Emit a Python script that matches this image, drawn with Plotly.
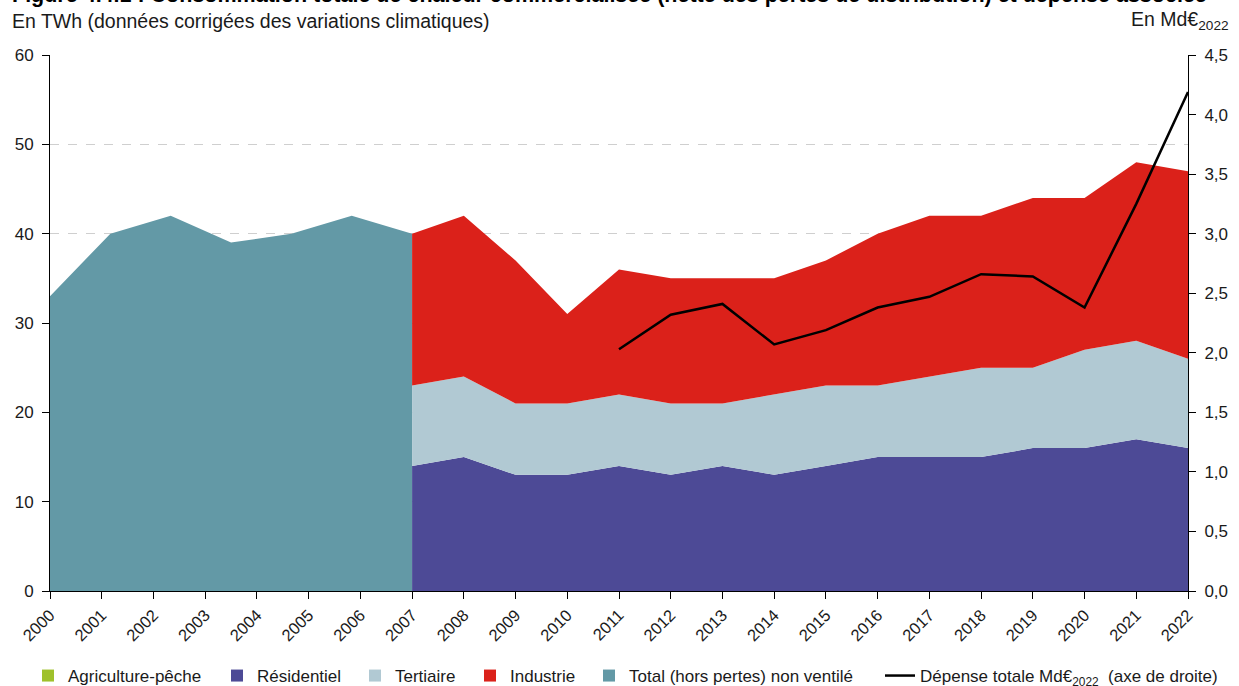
import numpy as np
import plotly.graph_objects as go

# ---- Data ----
years = list(range(2007, 2023))
total_nv_years = list(np.linspace(2000, 2007, 7))
total_nv = [33, 40, 42, 39, 40, 42, 40]
residentiel = [14, 15, 13, 13, 14, 13, 14, 13, 14, 15, 15, 15, 16, 16, 17, 16]
tertiaire = [9, 9, 8, 8, 8, 8, 7, 9, 9, 8, 9, 10, 9, 11, 11, 10]
industrie = [17, 18, 16, 10, 14, 14, 14, 13, 14, 17, 18, 17, 19, 17, 20, 21]
dep_years = list(range(2011, 2023))
depense = [2.03, 2.32, 2.41, 2.07, 2.19, 2.38, 2.47, 2.66, 2.64, 2.38, 3.25, 4.19]
tick_years = list(range(2000, 2023))

C_AGRI = "#9fc12b"
C_RES = "#4d4a96"
C_TER = "#b1c9d3"
C_IND = "#db211a"
C_TOT = "#6399a6"

FONT = "Liberation Sans, Arial, Helvetica, sans-serif"
W, H = 1239, 686

fig = go.Figure()

# Total non ventilé
fig.add_trace(go.Scatter(x=total_nv_years, y=total_nv, mode="lines", fill="tozeroy",
                         line=dict(width=0, color=C_TOT), fillcolor=C_TOT,
                         showlegend=False, hoverinfo="skip"))
# Stacked
for name, vals, col in [("Agriculture-pêche", [0]*len(years), C_AGRI),
                        ("Résidentiel", residentiel, C_RES),
                        ("Tertiaire", tertiaire, C_TER),
                        ("Industrie", industrie, C_IND)]:
    fig.add_trace(go.Scatter(x=years, y=vals, mode="lines", stackgroup="s",
                             line=dict(width=0, color=col), fillcolor=col,
                             showlegend=False, name=name))

# Legend entries, each in its own legend box
legend_items = [("Agriculture-pêche", C_AGRI, 42),
                ("Résidentiel", C_RES, 231),
                ("Tertiaire", C_TER, 369),
                ("Industrie", C_IND, 484),
                ("Total (hors pertes) non ventilé", C_TOT, 603)]
legend_layouts = {}
for i, (name, col, px) in enumerate(legend_items):
    lg = "legend" if i == 0 else f"legend{i+1}"
    fig.add_trace(go.Bar(x=[None], y=[None], name=name,
                         marker=dict(color=col, line=dict(width=0)),
                         showlegend=True, legend=lg))
    legend_layouts[lg] = dict(orientation="h", x=(px - 14) / W, xref="container",
                              y=(H - 676) / H, yref="container", yanchor="middle",
                              xanchor="left", font=dict(size=17), bgcolor="rgba(0,0,0,0)",
                              borderwidth=0, itemwidth=30)

# Dépense line
fig.add_trace(go.Scatter(x=dep_years, y=depense, mode="lines", yaxis="y2",
                         line=dict(color="black", width=2.5),
                         name="Dépense totale Md€<sub>2022</sub>  (axe de droite)",
                         legend="legend6"))
legend_layouts["legend6"] = dict(orientation="h", x=(885 - 5) / W, xref="container",
                                 y=(H - 676) / H, yref="container", yanchor="middle",
                                 xanchor="left", font=dict(size=17), bgcolor="rgba(0,0,0,0)",
                                 borderwidth=0, itemwidth=30)

PW = 1138
PH = 536

fig.update_layout(
    width=W, height=H,
    margin=dict(l=50, r=51, t=55, b=95),
    paper_bgcolor="white", plot_bgcolor="white",
    font=dict(family=FONT, size=17, color="#1a1a1a"),
    separators=", ",
    xaxis=dict(range=[2000, 2022], tickmode="array", tickvals=tick_years,
               ticktext=[str(y) for y in tick_years], tickangle=-45,
               showline=True, linecolor="black", linewidth=1,
               ticks="outside", ticklen=7, tickcolor="black", automargin=False,
               showgrid=False, zeroline=False, tickfont=dict(size=16.5)),
    yaxis=dict(range=[0, 60], dtick=10, showline=True, linecolor="black", linewidth=1,
               ticks="outside", ticklen=7, tickcolor="black", ticklabelstandoff=5,
               showgrid=True, gridcolor="#cfcfcf", griddash="dash", gridwidth=1,
               zeroline=False, automargin=False),
    yaxis2=dict(range=[0, 4.5], dtick=0.5, tickformat=".1f", overlaying="y", side="right",
                showline=True, linecolor="black", linewidth=1, ticklabelstandoff=5,
                ticks="outside", ticklen=7, tickcolor="black", automargin=False,
                showgrid=False, zeroline=False),
    annotations=[
        dict(text="<b>Figure 4.4.1 : Consommation totale de chaleur commercialisée (nette des pertes de distribution) et dépense associée</b>",
             xref="paper", yref="paper", x=(10 - 50) / PW, y=1 + (55 + 5) / PH,
             xanchor="left", yanchor="middle", showarrow=False,
             font=dict(size=21.5, color="black")),
        dict(text="En TWh (données corrigées des variations climatiques)", xref="paper", yref="paper",
             x=(10 - 50) / PW, y=1 + (55 - 21) / PH, xanchor="left", yanchor="middle",
             showarrow=False, font=dict(size=19.5)),
        dict(text="En Md€<sub>2022</sub>", xref="paper", yref="paper",
             x=1 + (1231 - 1188) / PW, y=1 + (55 - 21) / PH, xanchor="right", yanchor="middle",
             showarrow=False, font=dict(size=19.5)),
    ],
    **legend_layouts,
)

fig.write_html("out.html", config={"displayModeBar": False},
               post_script="document.body.style.margin='0';document.body.style.overflow='hidden';")
